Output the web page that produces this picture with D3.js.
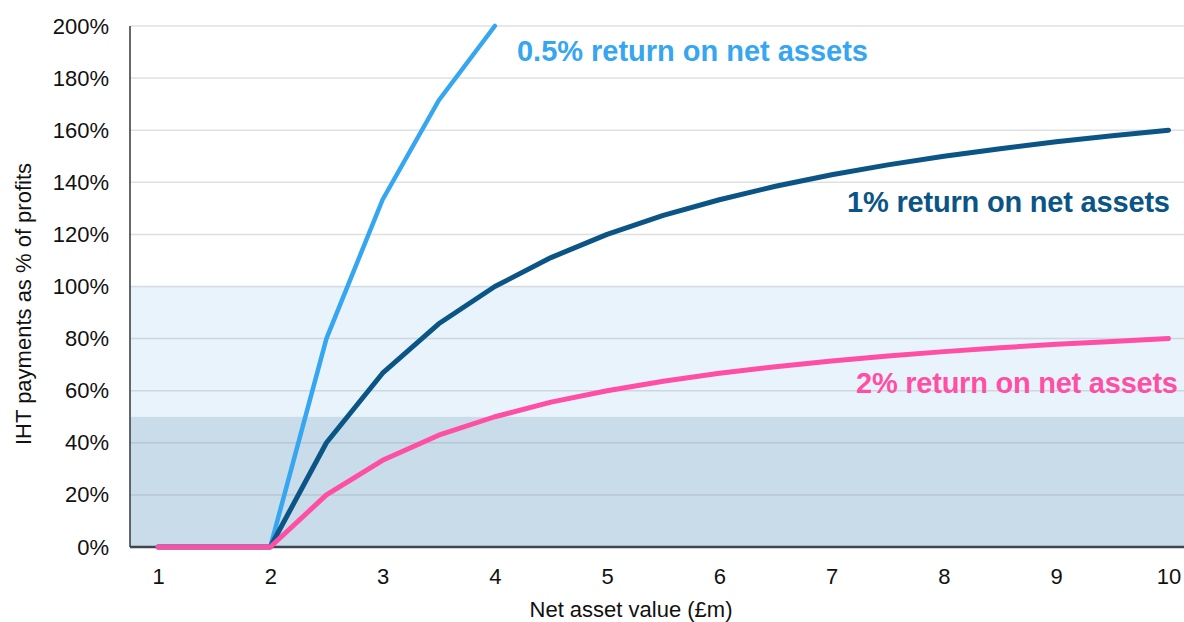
<!DOCTYPE html>
<html>
<head>
<meta charset="utf-8">
<script src="https://cdn.jsdelivr.net/npm/d3@7"></script>
<style>
  html, body { margin: 0; padding: 0; background: #ffffff; }
  svg { display: block; }
</style>
</head>
<body>
<svg id="chart" width="1184" height="622"></svg>
<script>
// Net asset value (£m) sampled every half million
const netAssets = [1, 1.5, 2, 2.5, 3, 3.5, 4, 4.5, 5, 5.5, 6, 6.5, 7, 7.5, 8, 8.5, 9, 9.5, 10];

// IHT payments as % of profits, per return on net assets
const halfPctReturn = [0, 0, 0, 80, 133.3, 171.4, 200];
const onePctReturn  = [0, 0, 0, 40, 66.7, 85.7, 100, 111.1, 120, 127.3, 133.3, 138.5, 142.9, 146.7, 150, 152.9, 155.6, 157.9, 160];
const twoPctReturn  = [0, 0, 0, 20, 33.3, 42.9, 50, 55.6, 60, 63.6, 66.7, 69.2, 71.4, 73.3, 75, 76.5, 77.8, 78.9, 80];

const xTicks = [1, 2, 3, 4, 5, 6, 7, 8, 9, 10];
const yTicks = [0, 20, 40, 60, 80, 100, 120, 140, 160, 180, 200];

// Shaded bands behind the lines
const bands = [
  { from: 50, to: 100, fill: "#e8f3fc" },
  { from: 0, to: 50, fill: "#c9dce9" }
];

const seriesList = [
  { name: "0.5% return on net assets", values: halfPctReturn, color: "#35a6ef", width: 4.5,
    labelX: 517, labelY: 61, labelLen: 351 },
  { name: "1% return on net assets", values: onePctReturn, color: "#0b5586", width: 5,
    labelX: 847, labelY: 212, labelLen: 323 },
  { name: "2% return on net assets", values: twoPctReturn, color: "#ff4fa5", width: 5,
    labelX: 856, labelY: 393, labelLen: 322 }
];

const svg = d3.select("#chart");
const plotLeft = 130, plotRight = 1184, plotTop = 26, plotBottom = 547;

const x = d3.scaleLinear().domain([1, 10]).range([158, 1168.5]);
const y = d3.scaleLinear().domain([0, 200]).range([plotBottom, plotTop]);

// bands
svg.append("g").selectAll("rect").data(bands).join("rect")
  .attr("x", plotLeft)
  .attr("width", plotRight - plotLeft)
  .attr("y", d => y(d.to))
  .attr("height", d => y(d.from) - y(d.to))
  .attr("fill", d => d.fill);

// horizontal gridlines
svg.append("g").selectAll("line").data(yTicks.filter(t => t > 0)).join("line")
  .attr("x1", plotLeft).attr("x2", plotRight)
  .attr("y1", d => y(d)).attr("y2", d => y(d))
  .attr("stroke", "#8a8f96")
  .attr("stroke-opacity", 0.28)
  .attr("stroke-width", 1.5);

const tickFont = "Liberation Sans, Arial, sans-serif";

// y axis
const yAxis = d3.axisLeft(y).tickValues(yTicks).tickFormat(d => d + "%").tickSize(0).tickPadding(21);
const gy = svg.append("g").attr("transform", `translate(${plotLeft},0)`).call(yAxis);
gy.select(".domain").remove();
gy.selectAll("text")
  .attr("font-family", tickFont)
  .attr("font-size", 22)
  .attr("fill", "#111");

// x axis
const xAxis = d3.axisBottom(x).tickValues(xTicks).tickFormat(d3.format("d")).tickSize(0).tickPadding(21);
const gx = svg.append("g").attr("transform", `translate(0,${plotBottom})`).call(xAxis);
gx.select(".domain").remove();
gx.selectAll("text")
  .attr("font-family", tickFont)
  .attr("font-size", 22)
  .attr("fill", "#111");

// axis lines
svg.append("line")
  .attr("x1", plotLeft).attr("x2", plotLeft)
  .attr("y1", plotTop).attr("y2", plotBottom)
  .attr("stroke", "#3e4247").attr("stroke-width", 1.6);
svg.append("line")
  .attr("x1", plotLeft).attr("x2", plotRight)
  .attr("y1", plotBottom).attr("y2", plotBottom)
  .attr("stroke", "#3e4650").attr("stroke-width", 2.5);

// series lines
const line = d3.line()
  .x((d, i) => x(netAssets[i]))
  .y(d => y(d));

svg.append("g").selectAll("path").data(seriesList).join("path")
  .attr("d", s => line(s.values))
  .attr("fill", "none")
  .attr("stroke", s => s.color)
  .attr("stroke-width", s => s.width)
  .attr("stroke-linejoin", "round")
  .attr("stroke-linecap", "round");

// series labels
svg.append("g").selectAll("text").data(seriesList).join("text")
  .attr("x", s => s.labelX)
  .attr("y", s => s.labelY)
  .attr("textLength", s => s.labelLen)
  .attr("lengthAdjust", "spacing")
  .attr("font-family", "Liberation Sans, Arial, sans-serif")
  .attr("font-weight", "bold")
  .attr("font-size", 29)
  .attr("fill", s => s.color)
  .text(s => s.name);

// axis titles
svg.append("text")
  .attr("x", 631)
  .attr("y", 617)
  .attr("text-anchor", "middle")
  .attr("font-family", "Liberation Sans, Arial, sans-serif")
  .attr("font-size", 22)
  .attr("fill", "#111")
  .text("Net asset value (£m)");

svg.append("text")
  .attr("transform", "translate(31,304) rotate(-90)")
  .attr("text-anchor", "middle")
  .attr("font-family", "Liberation Sans, Arial, sans-serif")
  .attr("font-size", 22)
  .attr("fill", "#111")
  .text("IHT payments as % of profits");
</script>
</body>
</html>
